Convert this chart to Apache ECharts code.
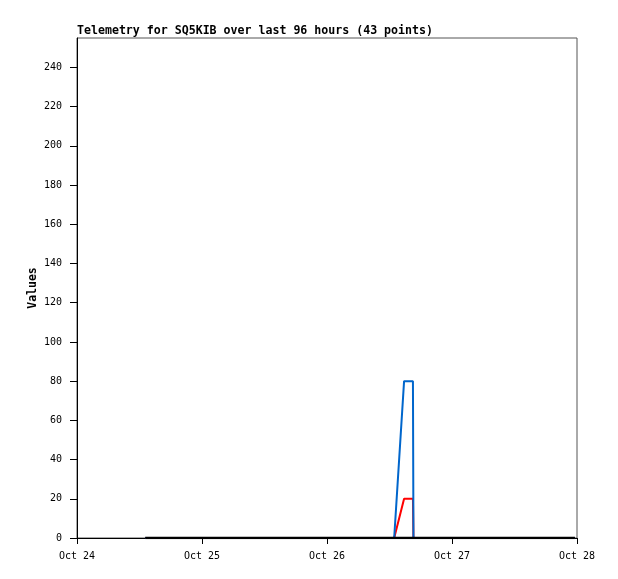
<!DOCTYPE html>
<html>
<head>
<meta charset="utf-8">
<script src="https://cdn.jsdelivr.net/npm/echarts@6/dist/echarts.min.js"></script>
<style>html,body{margin:0;padding:0;background:#fff}#c{width:618px;height:579px}</style>
</head>
<body>
<div id="c"></div>
<script>
// time of each point, hours since Oct 24 00:00
const hours = [13.1,15.1,17.1,19.1,21.1,23.1,25.0,27.0,29.0,31.0,33.0,35.0,37.0,39.0,41.0,43.0,44.9,46.9,48.9,50.9,52.9,54.9,56.9,58.9,60.9,62.8,64.5,64.6,66.7,68.7,70.8,72.9,74.9,77.0,79.1,81.2,83.2,85.3,87.4,89.4,91.5,93.6,95.6];
const blueVals = [0,0,0,0,0,0,0,0,0,0,0,0,0,0,0,0,0,0,0,0,0,0,0,0,0,80,80,0,0,0,0,0,0,0,0,0,0,0,0,0,0,0,0];
const redVals  = [0,0,0,0,0,0,0,0,0,0,0,0,0,0,0,0,0,0,0,0,0,0,0,0,0,20,20,0,0,0,0,0,0,0,0,0,0,0,0,0,0,0,0];
const blackVals= [0,0,0,0,0,0,0,0,0,0,0,0,0,0,0,0,0,0,0,0,0,0,0,0,0,0,0,0,0,0,0,0,0,0,0,0,0,0,0,0,0,0,0];
const xTickLabels = ['Oct 24','Oct 25','Oct 26','Oct 27','Oct 28'];
const yTicks = [0,20,40,60,80,100,120,140,160,180,200,220,240];
const titleText = 'Telemetry for SQ5KIB over last 96 hours (43 points)';
const yName = 'Values';

const pair = vals => hours.map((h,i)=>[h, vals[i]]);
const FONT = '"DejaVu Sans Mono", "Liberation Mono", monospace';

const chart = echarts.init(document.getElementById('c'), null, {renderer:'canvas'});
chart.setOption({
  animation:false,
  backgroundColor:'#fff',
  title:{text:titleText,left:77,top:25,padding:0,
    textStyle:{fontFamily:FONT,fontSize:11.6,fontWeight:'bold',color:'#000'}},
  grid:{left:77,right:41,top:38,bottom:41,show:true,borderColor:'#555',borderWidth:1},
  xAxis:{type:'value',min:0,max:96,interval:24,
    axisLine:{lineStyle:{color:'#000',width:1}},
    axisTick:{length:6,lineStyle:{color:'#000'}},
    splitLine:{show:false},
    axisLabel:{fontFamily:FONT,fontSize:10,color:'#000',margin:13,
      formatter:v=>xTickLabels[Math.round(v/24)]||''}},
  yAxis:{type:'value',min:0,max:255,interval:20,
    name:yName,nameLocation:'middle',nameGap:38,nameRotate:90,nameMoveOverlap:false,
    nameTextStyle:{fontFamily:FONT,fontSize:11.5,fontWeight:'bold',color:'#000'},
    axisLine:{show:true,lineStyle:{color:'#000',width:1}},
    axisTick:{show:true,length:7,lineStyle:{color:'#000'},customValues:yTicks},
    splitLine:{show:false},
    axisLabel:{fontFamily:FONT,fontSize:10,color:'#000',margin:15,customValues:yTicks}},
  series:[
    {type:'line',data:pair(redVals),symbol:'none',lineStyle:{color:'#ff0000',width:2},z:2},
    {type:'line',data:pair(blueVals),symbol:'none',lineStyle:{color:'#0066cc',width:2},z:3},
    {type:'line',data:pair(blackVals),symbol:'none',lineStyle:{color:'#000',width:2.5},z:4}
  ]
});
</script>
</body>
</html>
